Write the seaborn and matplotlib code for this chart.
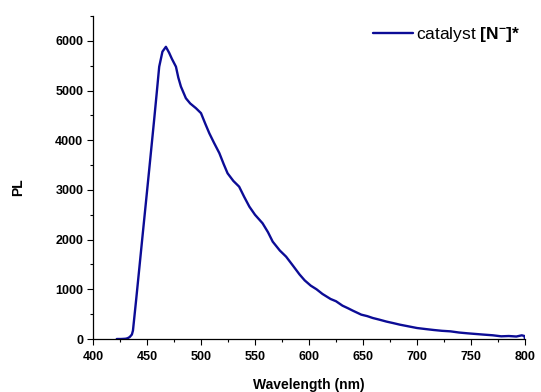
import pandas as pd
import matplotlib
matplotlib.use('Agg')
import matplotlib.pyplot as plt
import seaborn as sns
from matplotlib.ticker import AutoMinorLocator, MultipleLocator

# PL spectrum
wavelength = [422, 426, 430, 432, 434, 436, 437, 440, 443, 445.8, 449, 452,
              456.6, 459, 461.3, 464.3, 467.5, 470.5, 473, 476.8, 479, 481.4, 486,
              490, 495.3, 500, 504, 507.7, 512, 517, 521, 524.6, 530, 535.3, 540,
              544.8, 550, 557, 562, 566.4, 573, 578.8, 585, 591.2, 596, 601.6, 607,
              612.5, 620, 625, 631, 636, 640.6, 648.4, 654, 659, 665, 672, 678, 684,
              692, 700, 708, 715.6, 723, 731, 739, 747, 755, 762.5, 770, 778, 785,
              792, 797, 799.5, 800]
pl = [0, 0, 5, 15, 40, 90, 170, 800, 1450, 2060, 2750, 3400,
      4408, 4950, 5480, 5783, 5880, 5760, 5640, 5480, 5260, 5080, 4845,
      4740, 4645, 4545, 4330, 4140, 3950, 3740, 3520, 3335, 3180, 3066, 2860,
      2663, 2500, 2329, 2150, 1959, 1780, 1657, 1480, 1300, 1180, 1074, 1000,
      906, 805, 760, 671, 620, 570, 490, 460, 423, 390, 349, 320, 289,
      255, 221, 200, 181, 165, 154, 130, 114, 100, 87, 75, 54, 60,
      50, 74, 60, 0]
series_label = r'catalyst $\mathbf{[N^{-}]{*}}$'

df = pd.DataFrame({'wavelength': wavelength, 'PL': pl})

sns.set_style('ticks')
plt.rcParams['font.family'] = ['Liberation Sans', 'DejaVu Sans']
plt.rcParams['mathtext.fontset'] = 'custom'
plt.rcParams['mathtext.rm'] = 'Liberation Sans'
plt.rcParams['mathtext.bf'] = 'Liberation Sans:bold'
plt.rcParams['text.color'] = 'black'
plt.rcParams['axes.labelcolor'] = 'black'

fig = plt.figure(figsize=(5.41, 3.92), dpi=100)
ax = fig.add_axes([93/541, 1 - 339/392, 432/541, 323/392])

sns.lineplot(data=df, x='wavelength', y='PL', color='#0c0c96', lw=1.7,
             label=series_label, ax=ax)

ax.set_xlim(400, 800)
ax.set_ylim(0, 6500)
ax.xaxis.set_major_locator(MultipleLocator(50))
ax.yaxis.set_major_locator(MultipleLocator(1000))
ax.xaxis.set_minor_locator(AutoMinorLocator(2))
ax.yaxis.set_minor_locator(AutoMinorLocator(2))
ax.tick_params(which='major', direction='out', length=4, width=0.8, pad=3,
               labelsize=9, colors='black')
ax.tick_params(axis='x', which='major', pad=4.5)
ax.tick_params(which='minor', direction='out', length=2.5, width=0.8, colors='black')
for lab in ax.get_xticklabels() + ax.get_yticklabels():
    lab.set_fontweight('bold')

sns.despine(ax=ax)
for s in ['left', 'bottom']:
    ax.spines[s].set_color('black')
    ax.spines[s].set_linewidth(0.9)

ax.set_xlabel('Wavelength (nm)', fontsize=10, fontweight='bold', labelpad=11, color='black')
ax.set_ylabel('PL', fontsize=10, fontweight='bold', color='black')
ax.yaxis.set_label_coords(-0.157, 0.47)

leg = ax.legend(loc='upper right', frameon=False, fontsize=12.5, handlelength=2.3,
                handletextpad=0.2, borderaxespad=0, borderpad=0.2,
                bbox_to_anchor=(524/541, 1 - 22/392), bbox_transform=fig.transFigure)
for t in leg.get_texts():
    t.set_color('black')

fig.savefig('out.png', dpi=100)
